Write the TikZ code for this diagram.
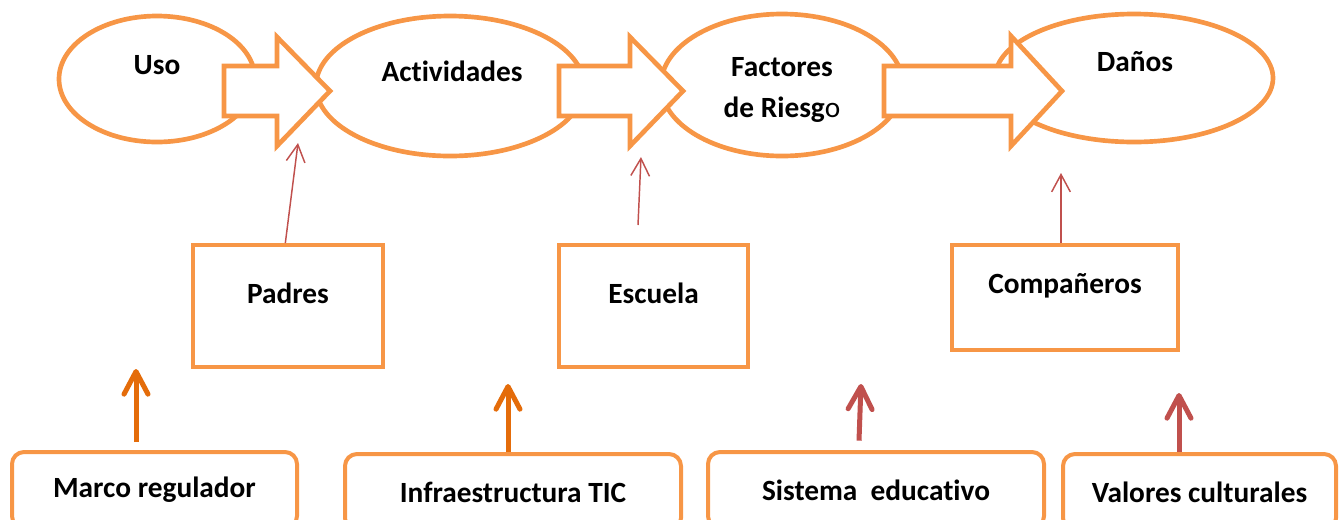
\documentclass[tikz,border=0pt]{standalone}
\usepackage{fontspec}
\setmainfont{Carlito}[Ligatures={NoCommon}]
\usetikzlibrary{shapes.geometric,arrows.meta}
\definecolor{orng}{HTML}{F79646}
\definecolor{dorng}{HTML}{E46C0A}
\definecolor{redb}{HTML}{C0504D}
\begin{document}
\begin{tikzpicture}[x=0.75pt,y=-0.75pt,
  oval/.style={ellipse,draw=orng,line width=3.5pt,inner sep=0pt},
  barrow/.style={draw=orng,fill=white,line width=3.5pt,line join=miter},
  sqbox/.style={rectangle,draw=orng,line width=3pt,inner sep=0pt,font=\bfseries\fontsize{22}{26}\selectfont},
  rbox/.style={rectangle,rounded corners=9pt,draw=orng,line width=3pt,inner sep=0pt,font=\bfseries\fontsize{22}{26}\selectfont},
  lbl/.style={font=\bfseries\fontsize{22}{30.75}\selectfont,inner sep=0pt,align=center},
  thinarr/.style={draw=redb,line width=1.1pt,-{Straight Barb[length=13pt,width=14pt]}},
  thickarr/.style={line width=3.75pt,-{Straight Barb[length=17pt,width=18pt,line cap=round,line join=round]}},
]
\useasboundingbox (0,0) rectangle (1342,519);
\clip (0,0) rectangle (1342,519);
% ellipses
\node[oval,minimum width=147pt,minimum height=94.5pt] (uso) at (157,79) {};
\node[oval,minimum width=201pt,minimum height=105pt] (act) at (450,86) {};
\node[oval,minimum width=181.5pt,minimum height=106.5pt] (fac) at (782,85) {};
\node[oval,minimum width=208.5pt,minimum height=96pt] (dan) at (1134,78) {};
% block arrows
\draw[barrow] (224,66) -- (277,66) -- (277,37) -- (330,91) -- (277,146) -- (277,116) -- (224,116) -- cycle;
\draw[barrow] (559,66) -- (630,66) -- (630,37) -- (683,91) -- (630,146) -- (630,116) -- (559,116) -- cycle;
\draw[barrow] (884,66) -- (1011,66) -- (1011,36) -- (1062,91) -- (1011,146) -- (1011,116) -- (884,116) -- cycle;
% labels
\node[lbl] (tuso) at (157,65) {Uso};
\node[lbl] (tact) at (452,71) {Actividades};
\node[lbl] (tfac) at (782,90) {Factores\\de Riesg{\mdseries o}};
\node[lbl] (tdan) at (1135,62) {Daños};
% square boxes
\node[sqbox,minimum width=142.5pt,minimum height=91.5pt,text depth=19.5pt] (padres) at (288,306) {Padres};
\node[sqbox,minimum width=141.75pt,minimum height=91.5pt,text depth=19.5pt] (escuela) at (653.5,306) {Escuela};
\node[sqbox,minimum width=169.5pt,minimum height=78.75pt,text depth=21.75pt] (comp) at (1065,297.5) {Compañeros};
% thin arrows
\coordinate (tipP) at (298,143);
\coordinate (escS) at (638,225);
\coordinate (tipE) at (641,157);
\coordinate (tipC) at (1061,173);
\draw[thinarr] ([xshift=-2pt]padres.north) -- (tipP);
\draw[thinarr] (escS) -- (tipE);
\draw[thinarr] (tipC |- comp.north) -- (tipC);
% rounded boxes
\node[rbox,minimum width=213.75pt,minimum height=57pt] (marco) at (154.5,490) {Marco regulador};
\node[rbox,minimum width=252pt,minimum height=57pt] (infra) at (513,492) {Infraestructura TIC};
\node[rbox,minimum width=252pt,minimum height=57pt] (sist) at (876,490) {Sistema\ \ educativo};
\node[rbox,minimum width=204.75pt,minimum height=57pt] (valo) at (1199.5,492) {Valores culturales};
% thick arrows
\coordinate (tipM) at (136,369);
\coordinate (tipI) at (508,384);
\coordinate (tipS) at (861,384);
\coordinate (tipV) at (1179,393);
\draw[thickarr,dorng] ([yshift=6pt]tipM |- marco.north) -- (tipM);
\draw[thickarr,dorng] (tipI |- infra.north) -- (tipI);
\draw[thickarr,redb] ([xshift=-1.5pt,yshift=7pt]tipS |- sist.north) -- (tipS);
\draw[thickarr,redb] (tipV |- valo.north) -- (tipV);
\end{tikzpicture}
\end{document}
